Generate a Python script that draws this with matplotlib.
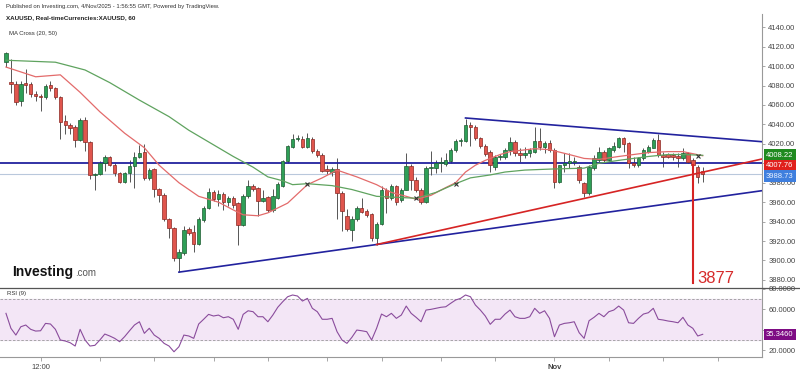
import matplotlib.pyplot as plt
import matplotlib.transforms as mtransforms
from matplotlib.lines import Line2D
import numpy as np

plt.rcParams['font.family'] = ['Liberation Sans', 'DejaVu Sans']

# hourly XAUUSD candles
opens = [4104, 4084, 4082, 4064, 4083, 4082, 4071, 4069, 4068, 4081,
         4077, 4068, 4043, 4039, 4037, 4024, 4045, 4022, 3988, 3989,
         4000, 4006, 3998, 3990, 3981, 3990, 3997, 4006, 4012, 3985,
         3994, 3974, 3967, 3943, 3933, 3903, 3908, 3932, 3929, 3917,
         3942, 3954, 3970, 3963, 3968, 3960, 3964, 3959, 3936, 3966,
         3977, 3975, 3961, 3965, 3952, 3964, 3977, 4002, 4017, 4025,
         4025, 4017, 4025, 4013, 4009, 3994, 3991, 3994, 3969, 3946,
         3931, 3943, 3954, 3951, 3948, 3923, 3938, 3973, 3964, 3977,
         3962, 3973, 3997, 3983, 3973, 3960, 3995, 3995, 4000, 3999,
         4002, 4014, 4023, 4023, 4039, 4037, 4026, 4018, 4012, 3996,
         4006, 4006, 4014, 4022, 4011, 4009, 4011, 4012, 4023, 4017,
         4021, 4014, 3981, 3998, 4000, 4001, 3996, 3980, 3969, 3995,
         4003, 4012, 4003, 4014, 4017, 4026, 4021, 4000, 3998, 4005,
         4012, 4016, 4024, 4009, 4010, 4009, 4008, 4005, 4011, 4003,
         3996, 3992]
highs = [4115, 4107, 4085, 4085, 4097, 4084, 4074, 4071, 4082, 4085,
         4079, 4069, 4050, 4041, 4039, 4047, 4048, 4023, 3990, 4002,
         4009, 4007, 4000, 3991, 3991, 4003, 4012, 4019, 4020, 3995,
         3995, 3975, 3969, 3944, 3934, 3912, 3935, 3934, 3937, 3945,
         3956, 3975, 3973, 3973, 3970, 3966, 3966, 3960, 3968, 3983,
         3979, 3976, 3973, 3966, 3974, 3981, 4003, 4019, 4030, 4029,
         4028, 4031, 4027, 4015, 4011, 3998, 3996, 4005, 3971, 3953,
         3946, 3956, 3964, 3953, 3949, 3940, 3977, 3975, 3979, 3978,
         3975, 4011, 3999, 3986, 3975, 3997, 4013, 4003, 4006, 4011,
         4016, 4025, 4026, 4046, 4042, 4039, 4027, 4020, 4014, 4009,
         4010, 4016, 4027, 4024, 4016, 4017, 4016, 4037, 4036, 4023,
         4024, 4016, 3998, 4011, 4011, 4006, 3998, 3981, 3998, 4009,
         4017, 4014, 4017, 4022, 4027, 4027, 4022, 4006, 4006, 4016,
         4019, 4026, 4030, 4012, 4011, 4011, 4011, 4016, 4012, 4005,
         3998, 3996]
lows = [4099, 4072, 4060, 4059, 4072, 4068, 4064, 4054, 4066, 4074,
        4066, 4025, 4030, 4030, 4017, 4023, 4013, 3984, 3973, 3988,
        3992, 3997, 3987, 3980, 3980, 3981, 3975, 4005, 3983, 3983,
        3965, 3960, 3941, 3923, 3899, 3888, 3906, 3926, 3909, 3916,
        3940, 3953, 3961, 3956, 3952, 3956, 3954, 3916, 3935, 3964,
        3971, 3946, 3960, 3950, 3950, 3963, 3976, 4000, 4016, 4023,
        4016, 4016, 4011, 4006, 3991, 3989, 3987, 3943, 3930, 3930,
        3920, 3941, 3949, 3945, 3920, 3916, 3936, 3949, 3962, 3957,
        3960, 3972, 3973, 3970, 3958, 3959, 3988, 3990, 3991, 3997,
        4000, 4012, 4018, 4022, 4018, 4024, 4016, 4008, 3991, 3993,
        4003, 4004, 4009, 4008, 4001, 4005, 4006, 4011, 4014, 4011,
        4012, 3975, 3980, 3991, 3995, 3998, 3980, 3965, 3967, 3993,
        4001, 4001, 4002, 4012, 4016, 4012, 3995, 3996, 3996, 4003,
        4011, 4016, 4006, 3996, 4005, 4003, 3996, 4003, 4000, 3996,
        3980, 3981]
closes = [4113, 4082, 4063, 4082, 4081, 4071, 4069, 4068, 4080, 4077,
          4068, 4042, 4039, 4036, 4024, 4045, 4022, 3988, 3989, 4000,
          4006, 3998, 3990, 3981, 3990, 3997, 4006, 4011, 3985, 3993,
          3974, 3967, 3943, 3933, 3903, 3909, 3931, 3928, 3917, 3943,
          3954, 3970, 3963, 3968, 3960, 3964, 3957, 3936, 3966, 3977,
          3974, 3961, 3964, 3952, 3966, 3979, 4002, 4018, 4025, 4025,
          4017, 4026, 4013, 4009, 3992, 3992, 3994, 3969, 3951, 3932,
          3943, 3954, 3950, 3947, 3923, 3938, 3973, 3964, 3977, 3960,
          3973, 3997, 3983, 3973, 3960, 3995, 3996, 4000, 4001, 4003,
          4014, 4023, 4024, 4039, 4037, 4026, 4018, 4010, 3998, 4006,
          4007, 4014, 4022, 4011, 4009, 4011, 4014, 4023, 4017, 4021,
          4014, 3981, 3998, 4000, 4002, 4002, 3983, 3969, 3996, 4005,
          4012, 4003, 4016, 4018, 4026, 4020, 4000, 3998, 4005, 4014,
          4017, 4024, 4009, 4006, 4006, 4006, 4005, 4011, 4001, 3998,
          3986, 3988.73]

# moving averages (candle index, value)
ma20_idx = [0, 6, 11, 15, 19, 24, 28, 31, 35, 39, 43, 46, 48, 51, 53, 55, 57, 61, 64, 67,
            71, 75, 78, 81, 83, 86, 89, 91, 93, 95, 97, 100, 102, 107, 110, 114, 117, 120,
            124, 127, 130, 134, 137, 141]
ma20_val = [4099, 4089, 4091, 4073, 4053, 4031, 4016, 3998, 3980, 3966, 3960, 3952, 3947,
            3946, 3949, 3954, 3959, 3978, 3985, 3993, 3986, 3978, 3970, 3966, 3963, 3967,
            3975, 3980, 3991, 3998, 4003, 4009, 4012, 4015, 4014, 4009, 4005, 4004, 4007,
            4009, 4011, 4012, 4012, 4007.76]
ma50_idx = [0, 10, 16, 21, 27, 33, 37, 43, 46, 50, 53, 56, 58, 61, 66, 70, 75, 79, 83, 85,
            87, 91, 94, 98, 101, 105, 110, 117, 120, 124, 127, 130, 134, 137, 141]
ma50_val = [4106, 4104, 4096, 4083, 4065, 4048, 4034, 4016, 4007, 3996, 3986, 3982, 3978,
            3979, 3977, 3973, 3966, 3965, 3964, 3967, 3970, 3979, 3985, 3988, 3991, 3993,
            3994, 3995, 4000, 4003, 4005, 4007, 4009, 4009, 4008.22]
cross_idx = [61, 83, 91, 140]
cross_val = [3979, 3964, 3979, 4008]

rsi = [55.8, 41.2, 34.6, 42.7, 44.4, 40.2, 38.5, 38.8, 46.0, 45.4,
       40.2, 29.8, 28.8, 27.1, 23.9, 40.2, 29.8, 23.9, 24.6, 29.8,
       35.6, 33.7, 31.4, 28.1, 33.0, 38.8, 44.4, 47.6, 36.3, 41.2,
       34.6, 31.4, 26.5, 23.9, 18.3, 23.2, 34.6, 33.7, 31.4, 45.4,
       50.0, 54.8, 53.2, 54.1, 51.5, 52.5, 50.0, 40.2, 54.8, 58.3,
       57.4, 52.5, 52.5, 47.6, 54.1, 61.7, 67.1, 72.0, 73.7, 72.7,
       67.8, 70.4, 60.7, 57.4, 50.0, 50.0, 50.9, 37.9, 29.8, 26.5,
       32.4, 39.5, 38.8, 37.9, 29.8, 41.2, 55.1, 52.5, 55.8, 50.9,
       54.1, 62.9, 55.8, 51.9, 47.6, 59.0, 59.7, 60.7, 61.7, 62.2,
       65.6, 68.8, 70.4, 73.7, 72.0, 63.9, 59.0, 53.2, 45.1, 50.0,
       50.0, 55.1, 59.0, 52.5, 50.9, 50.9, 52.5, 60.7, 55.8, 58.3,
       50.9, 33.0, 44.4, 46.0, 46.6, 47.6, 36.9, 31.4, 48.6, 51.9,
       55.8, 52.5, 57.4, 59.0, 62.9, 59.0, 46.6, 46.0, 50.9, 55.1,
       56.4, 60.7, 50.0, 49.3, 48.3, 47.6, 46.6, 51.9, 44.4, 41.2,
       33.7, 35.346]

# drawn lines: (start idx, start price), (end idx, end price)
upper_line = ((93, 4046.6), (153, 4022.2))
lower_line = ((35, 3888.0), (153, 3971.8))
rising_line = ((75, 3916.4), (153, 4004.4))
resistance = 4000.5
last_price = 3988.73
target = 3877
target_idx = 139

price_ticks = np.arange(3880, 4141, 20)
hidden_price = [4000]          # covered by the value boxes
rsi_ticks = [20, 40, 60, 80]
hidden_rsi = [40]
time_ticks = [7, 19, 30, 42, 53, 65, 76, 88, 99, 111, 122, 133, 144]
time_labels = ['12:00', '', '', '', '', '', '', '', '', 'Nov', '', '', '']

W, H = 800, 372
fig = plt.figure(figsize=(8, 3.72), dpi=100)


def px_axes(x0, y0, x1, y1):
    return fig.add_axes([x0 / W, 1 - y1 / H, (x1 - x0) / W, (y1 - y0) / H])


ax = px_axes(0, 14, 762, 287)
rx = px_axes(0, 287, 762, 357)
xlim = (-1.21, 153.0)

o, h, l, c = (np.array(a, dtype=float) for a in (opens, highs, lows, closes))
idx = np.arange(len(c))
up = c >= o
ax.vlines(idx, l, h, color='#555555', lw=0.7, zorder=2)
ax.bar(idx, np.maximum(np.abs(c - o), 0.7), bottom=np.minimum(o, c), width=0.7,
       color=np.where(up, '#2e9f57', '#e0554d'),
       edgecolor=np.where(up, '#1c5c31', '#8a2722'), lw=0.5, zorder=3)

ax.plot(ma20_idx, ma20_val, color='#e36b6b', lw=0.9, zorder=4)
ax.plot(ma50_idx, ma50_val, color='#5fa35f', lw=0.9, zorder=4)
ax.plot(cross_idx, cross_val, 'x', color='#333333', ms=2.5, mew=0.8, zorder=5)

ax.axhline(resistance, color='#22229e', lw=1.3, zorder=2)
ax.axhline(last_price, color='#b9c8dc', lw=0.8, zorder=1)
for (x0, y0), (x1, y1), col in [(upper_line[0], upper_line[1], '#22229e'),
                                (lower_line[0], lower_line[1], '#22229e'),
                                (rising_line[0], rising_line[1], '#d62424')]:
    ax.plot([x0, x1], [y0, y1], color=col, lw=1.2, zorder=4)
ax.plot([target_idx, target_idx], [3998, target], color='#d62424', lw=1.5, zorder=4)
ax.text(target_idx + 1.0, target, str(target), color='#d62a2a', fontsize=12,
        ha='left', va='baseline', zorder=6)

ax.set_xlim(*xlim)
ax.set_ylim(3872.7, 4153.6)
ax.yaxis.tick_right()
ax.set_yticks(price_ticks)
ax.set_yticklabels(['' if v in hidden_price else '%.2f' % v for v in price_ticks])
ax.set_xticks([])
for s in ['top', 'left', 'bottom']:
    ax.spines[s].set_visible(False)
ax.spines['right'].set_color('#999999')
ax.tick_params(axis='y', length=2.5, width=0.6, color='#999999', labelsize=5.5,
               labelcolor='#444444', pad=2)

trans = mtransforms.blended_transform_factory(ax.transAxes, ax.transData)
for val, ypos, bg, fg in [(4008.22, 4008.22, '#1f8a1f', 'white'),
                          (4007.76, 3997.5, '#e0201c', 'white'),
                          (3988.73, 3986.9, '#3f7fde', '#e8f0ff')]:
    ax.text(1.0 + 4 / 762, ypos, '%.2f' % val, transform=trans, fontsize=5.5,
            color=fg, ha='left', va='center', zorder=10, clip_on=False,
            bbox=dict(boxstyle='square,pad=0.3', fc=bg, ec='none'))

# RSI panel
rx.axhspan(30, 70, color='#f3e6f6', zorder=0)
rx.axhline(70, color='#9a9a9a', lw=0.6, ls=(0, (3, 2)))
rx.axhline(30, color='#9a9a9a', lw=0.6, ls=(0, (3, 2)))
rx.plot(idx, rsi, color='#8a4c9c', lw=0.8)
rx.set_xlim(*xlim)
rx.set_ylim(13.2, 81.5)
rx.yaxis.tick_right()
rx.set_yticks(rsi_ticks)
rx.set_yticklabels(['' if v in hidden_rsi else '%.4f' % v for v in rsi_ticks])
rx.set_xticks(time_ticks)
rx.set_xticklabels(time_labels)
for s in ['top', 'left']:
    rx.spines[s].set_visible(False)
rx.spines['right'].set_color('#999999')
rx.spines['bottom'].set_color('#999999')
rx.tick_params(axis='y', length=2.5, width=0.6, color='#999999', labelsize=5.5,
               labelcolor='#444444', pad=2)
rx.tick_params(axis='x', length=3, width=0.6, color='#999999', labelsize=5.5,
               labelcolor='#444444', pad=2)
for t in rx.get_xticklabels():
    if t.get_text() == 'Nov':
        t.set_fontweight('bold')
trans_r = mtransforms.blended_transform_factory(rx.transAxes, rx.transData)
rx.text(1.0 + 4 / 762, rsi[-1], '%.4f' % rsi[-1], transform=trans_r, fontsize=5.5,
        color='white', ha='left', va='center', zorder=10, clip_on=False,
        bbox=dict(boxstyle='square,pad=0.3', fc='#7e0c84', ec='none'))
rx.text(7 / 762, 0.88, 'RSI (9)', transform=rx.transAxes, fontsize=4.3, color='#333333')

# panel separator
fig.add_artist(Line2D([0, 1], [1 - 287.5 / H] * 2, color='#555555', lw=0.9))

# header texts and watermark
fig.text(6 / W, 1 - 6.7 / H, 'Published on Investing.com, 4/Nov/2025 - 1:56:55 GMT, Powered by TradingView.',
         fontsize=4.2, color='#333333', va='center')
fig.text(6 / W, 1 - 17.3 / H, 'XAUUSD, Real-timeCurrencies:XAUUSD, 60', fontsize=4.5,
         fontweight='bold', color='#222222', va='center')
fig.text(9 / W, 1 - 33.3 / H, 'MA Cross (20, 50)', fontsize=4.3, color='#333333', va='center')
fig.text(12.5 / W, 1 - 276 / H, 'Investing', fontsize=10, fontweight='bold', color='#111111',
         va='baseline')
fig.text(75.5 / W, 1 - 276 / H, '.com', fontsize=7, color='#555555', va='baseline')

fig.savefig('out.png', dpi=100, facecolor='white')
